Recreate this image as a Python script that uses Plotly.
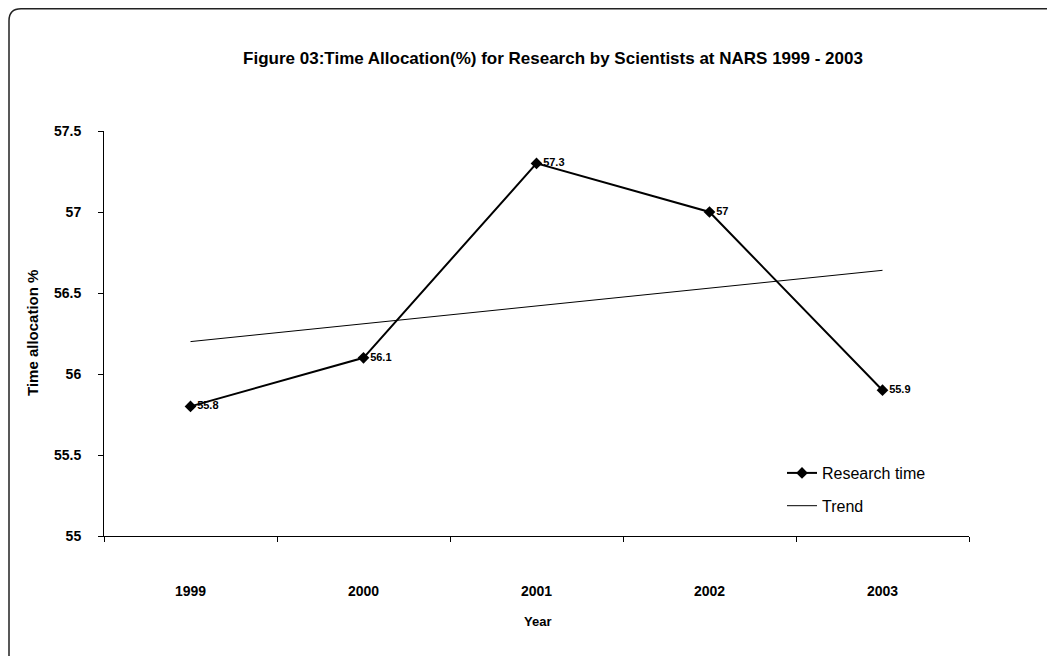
import plotly.graph_objects as go

years = ["1999", "2000", "2001", "2002", "2003"]
research_time = [55.8, 56.1, 57.3, 57.0, 55.9]
trend = [56.2, 56.31, 56.42, 56.53, 56.64]
y_ticks = [55, 55.5, 56, 56.5, 57, 57.5]
y_tick_labels = ["55", "55.5", "56", "56.5", "57", "57.5"]
label_texts = ["55.8", "56.1", "57.3", "57", "55.9"]

# page offset (body margin) and figure size
OFF = 8
W, H = 1055 - OFF, 656 - OFF
# plot area in page pixel coordinates
L, R, T, B = 104, 969, 131, 536

def px(x):
    return (x - L) / (R - L)

def py(y):
    return (B - y) / (B - T)

FONT = "Arial, 'Liberation Sans', sans-serif"

fig = go.Figure()
fig.add_trace(go.Scatter(
    x=years, y=research_time, mode="lines+markers+text", name="Research time",
    legendgroup="a",
    line=dict(color="black", width=2),
    marker=dict(symbol="diamond", size=9, color="black"),
    text=label_texts, textposition="middle right",
    textfont=dict(family=FONT, size=11, color="black", weight="bold"),
    cliponaxis=False,
))
fig.add_trace(go.Scatter(
    x=years, y=trend, mode="lines", name="Trend", legendgroup="b",
    line=dict(color="black", width=1),
))

# rounded border (top-left corner visible)
r = 12
bx, by = 9, 8.8
path = (f"M {px(bx)},{py(700)} L {px(bx)},{py(by + r)} "
        f"Q {px(bx)},{py(by)} {px(bx + r)},{py(by)} L {px(1070)},{py(by)}")
fig.add_shape(type="path", path=path, xref="paper", yref="paper",
              line=dict(color="#222", width=1.5))

fig.add_annotation(text="Time allocation %", x=px(32), y=py(333), xref="paper", yref="paper",
                   xanchor="center", yanchor="middle",
                   textangle=-90, showarrow=False,
                   font=dict(family=FONT, size=15, color="black", weight="bold"))
fig.add_annotation(text="Year", x=px(537), y=py(621), xref="paper", yref="paper",
                   xanchor="center", yanchor="middle",
                   showarrow=False,
                   font=dict(family=FONT, size=13, color="black", weight="bold"))

fig.update_layout(
    width=W, height=H,
    margin=dict(l=L - OFF, r=1055 - R, t=T - OFF, b=656 - B),
    paper_bgcolor="white", plot_bgcolor="white",
    title=dict(text="Figure 03:Time Allocation(%) for Research by Scientists at NARS 1999 - 2003",
               x=px(553), xref="paper", xanchor="center",
               y=1 - (58 - OFF) / H, yref="container", yanchor="middle",
               font=dict(family=FONT, size=17, color="black", weight="bold")),
    showlegend=True,
    legend=dict(x=px(782), y=py(456), xanchor="left", yanchor="top",
                bgcolor="rgba(0,0,0,0)", font=dict(family=FONT, size=16, color="black"),
                itemwidth=30, traceorder="grouped", tracegroupgap=9),
    xaxis=dict(type="category", range=[-0.5, 4.5], showline=True, linecolor="black",
               linewidth=1, ticks="outside", ticklen=5, tickcolor="black",
               tickson="boundaries", showgrid=False, zeroline=False,
               ticklabelstandoff=42,
               tickfont=dict(family=FONT, size=14, color="black", weight="bold")),
    yaxis=dict(range=[55, 57.5], tickvals=y_ticks, ticktext=y_tick_labels,
               showline=True, linecolor="black", linewidth=1, ticks="outside",
               ticklen=5, tickcolor="black", showgrid=False, zeroline=False,
               ticklabelstandoff=14,
               tickfont=dict(family=FONT, size=14, color="black", weight="bold")),
)

fig.write_html("out.html")
